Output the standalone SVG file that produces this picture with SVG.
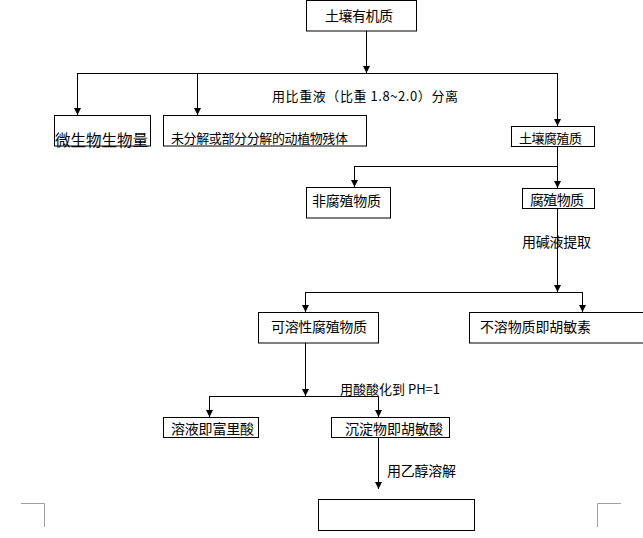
<svg xmlns="http://www.w3.org/2000/svg" width="643" height="538" viewBox="0 0 643 538">
<style>
.box{fill:#fff;stroke:#000;stroke-width:1}
.ln{fill:none;stroke:#000;stroke-width:1}
.arr{fill:none;stroke:#000;stroke-width:1;marker-end:url(#ah)}
.t{font-family:"Noto Sans CJK SC","Liberation Sans",sans-serif;font-size:14px;fill:#000;dominant-baseline:central}
.s{font-size:13px}
.l{font-size:15.5px}
.crop{fill:none;stroke:#a0a0a0;stroke-width:1}
</style>
<defs>
<marker id="ah" viewBox="0 0 8 8" refX="8" refY="4" markerWidth="8" markerHeight="7" markerUnits="userSpaceOnUse" orient="auto">
<path d="M0,0 L8,4 L0,8 z" fill="#000"/>
</marker>
</defs>
<rect width="643" height="538" fill="#fff"/>
<g id="connectors">
<line class="arr" x1="366.5" y1="31" x2="366.5" y2="73"/>
<line class="ln" x1="77.5" y1="73.5" x2="557.5" y2="73.5"/>
<line class="arr" x1="77.5" y1="73" x2="77.5" y2="115"/>
<line class="arr" x1="197.5" y1="73" x2="197.5" y2="115"/>
<line class="arr" x1="557.5" y1="73" x2="557.5" y2="126"/>
<line class="ln" x1="557.5" y1="146" x2="557.5" y2="166.5"/>
<line class="ln" x1="354.5" y1="166.5" x2="557.5" y2="166.5"/>
<line class="arr" x1="354.5" y1="166" x2="354.5" y2="187"/>
<line class="arr" x1="557.5" y1="166" x2="557.5" y2="188"/>
<line class="arr" x1="557.5" y1="208" x2="557.5" y2="292"/>
<line class="ln" x1="305.5" y1="292.5" x2="582.5" y2="292.5"/>
<line class="arr" x1="305.5" y1="292" x2="305.5" y2="312"/>
<line class="arr" x1="582.5" y1="292" x2="582.5" y2="312"/>
<line class="arr" x1="305.5" y1="343" x2="305.5" y2="396"/>
<line class="ln" x1="209.5" y1="396.5" x2="378.5" y2="396.5"/>
<line class="arr" x1="209.5" y1="396" x2="209.5" y2="417"/>
<line class="arr" x1="378.5" y1="396" x2="378.5" y2="417"/>
<line class="arr" x1="378.5" y1="437" x2="378.5" y2="489"/>
</g>
<g id="label-separate"><text class="t s" x="272" y="95" textLength="186" lengthAdjust="spacing">用比重液（比重 1.8~2.0）分离</text></g>
<g id="label-alkali"><text class="t" x="522" y="241" textLength="69" lengthAdjust="spacing">用碱液提取</text></g>
<g id="label-acid"><text class="t s" x="340" y="388" textLength="100" lengthAdjust="spacing">用酸酸化到 PH=1</text></g>
<g id="label-ethanol"><text class="t" x="387" y="470" textLength="69" lengthAdjust="spacing">用乙醇溶解</text></g>
<g id="n-organic"><rect class="box" x="306.5" y="0.5" width="110" height="30.5"/><text class="t" x="325" y="15" textLength="68" lengthAdjust="spacing">土壤有机质</text></g>
<g id="n-microbe"><rect class="box" x="54.5" y="115.5" width="96" height="30.5"/><text class="t l" x="55" y="139" textLength="93" lengthAdjust="spacing">微生物生物量</text></g>
<g id="n-residue"><rect class="box" x="163.5" y="115.5" width="203" height="30.5"/><text class="t s" x="171" y="137" textLength="177" lengthAdjust="spacing">未分解或部分分解的动植物残体</text></g>
<g id="n-humus"><rect class="box" x="511.5" y="126.5" width="83" height="20"/><text class="t s" x="519" y="137" textLength="63" lengthAdjust="spacing">土壤腐殖质</text></g>
<g id="n-nonhumic"><rect class="box" x="306.5" y="187.5" width="84" height="30.5"/><text class="t" x="312" y="200" textLength="69" lengthAdjust="spacing">非腐殖物质</text></g>
<g id="n-humic"><rect class="box" x="522.5" y="188.5" width="72" height="20"/><text class="t" x="530" y="199" textLength="54" lengthAdjust="spacing">腐殖物质</text></g>
<g id="n-soluble"><rect class="box" x="258.5" y="312.5" width="120" height="30.5"/><text class="t" x="271" y="326" textLength="96" lengthAdjust="spacing">可溶性腐殖物质</text></g>
<g id="n-humin"><rect class="box" x="469.5" y="312.5" width="190" height="30.5"/><text class="t" x="480" y="326" textLength="111" lengthAdjust="spacing">不溶物质即胡敏素</text></g>
<g id="n-fulvic"><rect class="box" x="163.5" y="417.5" width="95" height="20"/><text class="t" x="171" y="428" textLength="83" lengthAdjust="spacing">溶液即富里酸</text></g>
<g id="n-humicacid"><rect class="box" x="331.5" y="417.5" width="118" height="20"/><text class="t" x="345" y="428" textLength="98" lengthAdjust="spacing">沉淀物即胡敏酸</text></g>
<g id="n-empty"><rect class="box" x="318.5" y="499.5" width="156" height="31"/></g>
<g id="crop-marks">
<path class="crop" d="M21,503.5 H44.5 V527"/>
<path class="crop" d="M621,503.5 H597.5 V527"/>
</g>
</svg>
